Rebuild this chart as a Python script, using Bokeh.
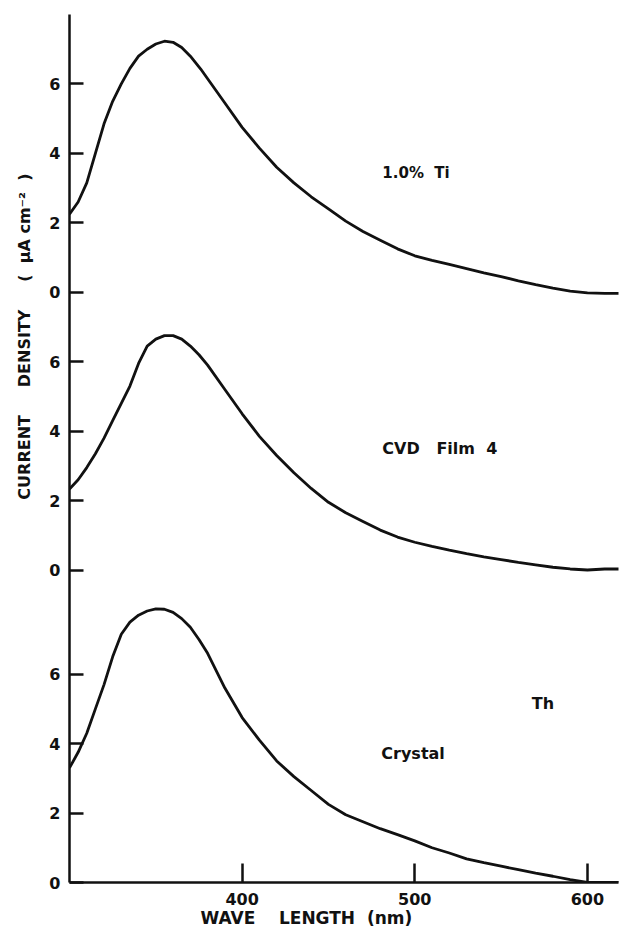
from bokeh.plotting import figure
from bokeh.models import Range1d, FixedTicker, Label, Title
from bokeh.embed import file_html
from bokeh.resources import INLINE

# Photocurrent spectra: wavelength (nm) vs current density (uA cm^-2)
wl_ti = [300, 305, 310, 315, 320, 325, 330, 335, 340, 345, 350, 355, 360, 365, 370, 376,
         380, 390, 400, 410, 420, 430, 440, 450, 460, 470, 480, 490, 500, 510, 520, 530,
         540, 550, 560, 570, 580, 590, 600, 610, 620]
cd_ti = [2.25, 2.6, 3.15, 4.0, 4.85, 5.5, 6.0, 6.45, 6.8, 7.0, 7.15, 7.23, 7.2, 7.05, 6.8, 6.43,
         6.15, 5.45, 4.75, 4.15, 3.6, 3.15, 2.75, 2.4, 2.05, 1.75, 1.5, 1.25, 1.05, 0.92, 0.8, 0.68,
         0.56, 0.45, 0.33, 0.22, 0.12, 0.03, -0.02, -0.03, -0.03]

wl_cvd = [300, 305, 310, 315, 320, 325, 330, 335, 340, 345, 350, 355, 360, 365, 370, 375,
          380, 390, 400, 410, 420, 430, 440, 450, 460, 470, 480, 490, 500, 510, 520, 530,
          540, 550, 560, 570, 580, 590, 600, 610, 620]
cd_cvd = [2.33, 2.6, 2.95, 3.35, 3.8, 4.3, 4.8, 5.3, 5.95, 6.45, 6.65, 6.75, 6.75, 6.65, 6.45, 6.2,
          5.9, 5.2, 4.5, 3.85, 3.3, 2.8, 2.35, 1.95, 1.65, 1.4, 1.15, 0.95, 0.8, 0.68, 0.57, 0.47,
          0.38, 0.3, 0.22, 0.15, 0.08, 0.03, 0.0, 0.03, 0.03]

wl_xtal = [300, 305, 310, 315, 320, 325, 330, 335, 340, 345, 350, 355, 360, 365, 370, 375,
           380, 390, 400, 410, 420, 430, 440, 450, 460, 470, 480, 490, 500, 510, 520, 530,
           540, 550, 560, 570, 580, 590, 600, 610, 620]
cd_xtal = [3.3, 3.75, 4.3, 5.0, 5.7, 6.5, 7.15, 7.5, 7.7, 7.82, 7.88, 7.87, 7.78, 7.6, 7.35, 7.0,
           6.6, 5.6, 4.75, 4.1, 3.5, 3.05, 2.65, 2.25, 1.95, 1.75, 1.55, 1.38, 1.2, 1.0, 0.85, 0.68,
           0.57, 0.47, 0.37, 0.27, 0.18, 0.08, 0.0, 0.0, 0.0]

x_ticks = [400, 500, 600]
y_ticks = [0, 2, 4, 6]

# Vertical offset of each panel's zero on the shared stacked axis
panels = [
    ("Crystal", wl_xtal, cd_xtal, 0),
    ("CVD Film 4", wl_cvd, cd_cvd, 9),
    ("1.0% Ti", wl_ti, cd_ti, 17),
]

FONT = "DejaVu Sans"
INK = "#111111"
SP = "\u00a0"

p = figure(width=624, height=932, output_backend="svg", toolbar_location=None,
           x_range=Range1d(300, 618), y_range=Range1d(0, 25),
           min_border_left=69, min_border_right=6, min_border_top=14, min_border_bottom=50)
p.outline_line_color = None
p.xgrid.visible = False
p.ygrid.visible = False
p.background_fill_color = "white"
p.border_fill_color = "white"

for name, wl, cd, off in panels:
    p.line(wl, [v + off for v in cd], line_color=INK, line_width=2.8)

# y axis: one continuous spine, each panel labelled 0-6
ticks = []
overrides = {}
for _, _, _, off in panels:
    for t in y_ticks:
        ticks.append(t + off)
        overrides[t + off] = str(t)
yax = p.yaxis[0]
yax.ticker = FixedTicker(ticks=ticks)
yax.major_label_overrides = overrides
yax.minor_tick_line_color = None
yax.major_tick_in = 14
yax.major_tick_out = 0
yax.axis_line_width = 2.5
yax.axis_line_color = INK
yax.major_tick_line_width = 2.5
yax.major_tick_line_color = INK
yax.major_label_text_font = FONT
yax.major_label_text_font_style = "bold"
yax.major_label_text_font_size = "16px"
yax.major_label_text_color = INK
yax.major_label_standoff = 9

xax = p.xaxis[0]
xax.ticker = FixedTicker(ticks=x_ticks)
xax.minor_tick_line_color = None
xax.major_tick_in = 19
xax.major_tick_out = 0
xax.axis_line_width = 2.5
xax.axis_line_color = INK
xax.major_tick_line_width = 2.5
xax.major_tick_line_color = INK
xax.major_label_text_font = FONT
xax.major_label_text_font_style = "bold"
xax.major_label_text_font_size = "16px"
xax.major_label_text_color = INK
xax.major_label_standoff = 10

# axis titles
p.add_layout(Title(text=f"CURRENT{SP*5}DENSITY{SP*5}({SP*2}μA{SP}cm⁻²{SP*2})", align="right",
                   offset=159, standoff=25, vertical_align="bottom", text_font=FONT,
                   text_font_style="bold", text_font_size="16px", text_color=INK), "left")
p.add_layout(Title(text=f"WAVE{SP*4}LENGTH{SP*2}(nm)", align="left", offset=131,
                   standoff=0, vertical_align="top", text_font=FONT, text_font_style="bold",
                   text_font_size="17px", text_color=INK), "below")

# panel annotations
for txt, size, x, y in [(f"1.0%{SP*2}Ti", "15px", 481.2, 20.43),
                        (f"CVD{SP*3}Film{SP*2}4", "16px", 481.2, 12.51),
                        ("Crystal", "16px", 480.6, 3.72),
                        ("Th", "16px", 567.8, 5.16)]:
    p.add_layout(Label(x=x, y=y, text=txt, text_align="left", text_baseline="alphabetic",
                       text_font=FONT, text_font_style="bold", text_font_size=size,
                       text_color=INK))

open("out.html", "w").write(file_html(p, INLINE))
